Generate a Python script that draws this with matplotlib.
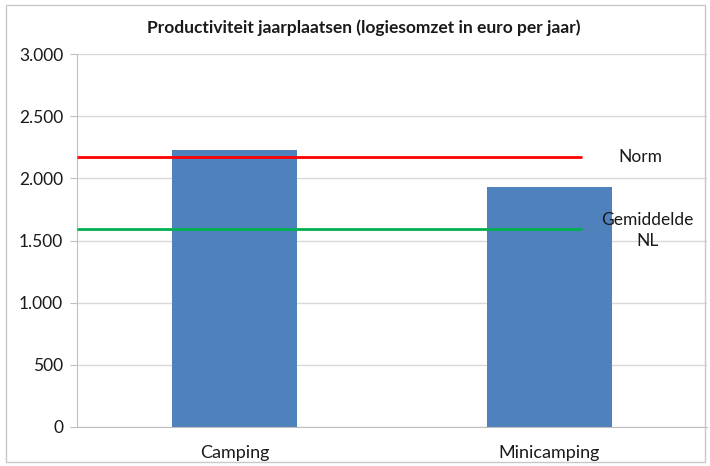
import matplotlib
matplotlib.use("Agg")
import matplotlib.pyplot as plt
from matplotlib.patches import Rectangle
from matplotlib.ticker import FuncFormatter

categories = ["Camping", "Minicamping"]
values = [2230, 1930]
norm_value = 2170
avg_value = 1590
yticks = [0, 500, 1000, 1500, 2000, 2500, 3000]

plt.rcParams["font.family"] = ["Lato", "DejaVu Sans"]

fig = plt.figure(figsize=(7.1, 4.66), dpi=100)
fig.patches.append(Rectangle((0.009, 0.008), 0.984, 0.982, transform=fig.transFigure,
                             fill=False, edgecolor="#c8c8c8", linewidth=1.0))
ax = fig.add_axes([0.1085, 0.0837, 0.8873, 0.8003])

x = list(range(len(categories)))
ax.bar(x, values, width=0.397, color="#4f81bd", zorder=2)
ax.set_xlim(-0.5, 1.5)
ax.set_ylim(0, 3000)
ax.set_yticks(yticks)
ax.yaxis.set_major_formatter(FuncFormatter(lambda v, p: f"{int(v):,}".replace(",", ".")))
ax.set_xticks(x)
ax.set_xticklabels(categories)

ax.hlines(norm_value, -0.5, 1.103, colors="#ff0000", linewidth=2, zorder=3)
ax.hlines(avg_value, -0.5, 1.103, colors="#00b050", linewidth=2, zorder=3)
ax.text(1.287, norm_value, "Norm", ha="center", va="center", fontsize=12.5, color="#1a1a1a")
ax.text(1.31, avg_value - 10, "Gemiddelde\nNL", ha="center", va="center", fontsize=12.5,
        color="#1a1a1a", linespacing=1.4)

ax.grid(axis="y", color="#d9d9d9", linewidth=1, zorder=0)
ax.set_axisbelow(True)
for side in ("top", "right"):
    ax.spines[side].set_visible(False)
ax.spines["left"].set_color("#bfbfbf")
ax.spines["bottom"].set_color("#bfbfbf")
ax.tick_params(axis="y", length=5, color="#bfbfbf", labelsize=12.5, labelcolor="#1a1a1a", pad=5)
ax.tick_params(axis="x", length=0, labelsize=13, labelcolor="#1a1a1a", pad=13)

fig.text(0.512, 0.94, "Productiviteit jaarplaatsen (logiesomzet in euro per jaar)",
         ha="center", va="center", fontsize=12.5, fontweight="bold", color="#1a1a1a")

fig.savefig("out.png", dpi=100)
